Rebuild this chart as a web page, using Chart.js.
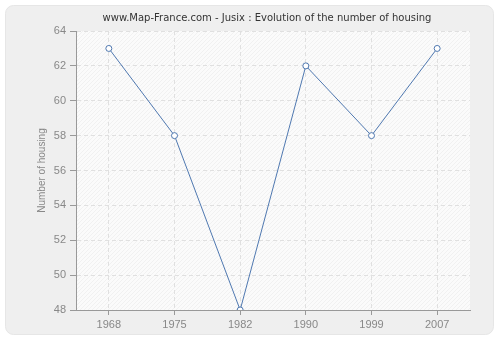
<!DOCTYPE html>
<html><head><meta charset="utf-8">
<script src="https://cdn.jsdelivr.net/npm/chart.js@4/dist/chart.umd.min.js"></script>
<style>html,body{margin:0;padding:0;background:#fff;}#wrap{width:500px;height:340px;}</style>
</head><body><div id="wrap"><canvas id="c" width="500" height="340"></canvas></div>
<script>
const years = ["1968","1975","1982","1990","1999","2007"];
const housing = [63, 58, 48, 62, 58, 63];
const yMin = 48, yMax = 64, yStep = 2;
const titleText = "www.Map-France.com - Jusix : Evolution of the number of housing";
const yTitle = "Number of housing";

const bgPlugin = {
  id: 'bg',
  beforeDraw(chart) {
    const ctx = chart.ctx;
    ctx.save();
    ctx.fillStyle = '#ffffff';
    ctx.fillRect(0, 0, chart.width, chart.height);
    const x = 5.5, y = 5.5, w = 488, h = 329, r = 8;
    ctx.beginPath();
    ctx.moveTo(x + r, y);
    ctx.arcTo(x + w, y, x + w, y + h, r);
    ctx.arcTo(x + w, y + h, x, y + h, r);
    ctx.arcTo(x, y + h, x, y, r);
    ctx.arcTo(x, y, x + w, y, r);
    ctx.closePath();
    ctx.fillStyle = '#efefef';
    ctx.fill();
    ctx.strokeStyle = '#e6e6e6';
    ctx.lineWidth = 1;
    ctx.stroke();
    // title
    ctx.fillStyle = '#333333';
    ctx.font = '10px "DejaVu Sans"';
    ctx.textAlign = 'center';
    ctx.textBaseline = 'middle';
    ctx.fillText(titleText, 267, 18);
    // plot area hatch
    const a = chart.chartArea;
    ctx.beginPath();
    ctx.rect(a.left, a.top, a.right - a.left, a.bottom - a.top);
    ctx.clip();
    ctx.fillStyle = '#fbfbfb';
    ctx.fillRect(a.left, a.top, a.right - a.left, a.bottom - a.top);
    ctx.strokeStyle = '#f1f1f1';
    ctx.lineWidth = 1;
    for (let s = -400; s < 500; s += 4) {
      ctx.beginPath();
      ctx.moveTo(a.left + s, a.bottom);
      ctx.lineTo(a.left + s + (a.bottom - a.top), a.top);
      ctx.stroke();
    }
    ctx.restore();
  }
};

new Chart(document.getElementById('c'), {
  type: 'line',
  data: {
    labels: years,
    datasets: [{
      data: housing,
      borderColor: '#4f78b0',
      borderWidth: 1,
      pointRadius: 3,
      pointBackgroundColor: '#ffffff',
      pointBorderColor: '#4f78b0',
      pointBorderWidth: 1,
      tension: 0,
      fill: false
    }]
  },
  options: {
    responsive: false,
    animation: false,
    layout: { padding: { left: 36, right: 30, top: 31, bottom: 0 } },
    plugins: {
      legend: { display: false },
      tooltip: { enabled: false },
      title: { display: false }
    },
    scales: {
      x: {
        type: 'category',
        offset: true,
        grid: {
          offset: false,
          color: '#e0e0e0',
          tickBorderDash: [],
          tickColor: '#999999',
          tickLength: 5,
          drawTicks: true
        },
        border: { display: true, color: '#999999', width: 1, dash: [4, 3] },
        ticks: { color: '#888888', font: { family: 'Liberation Sans', size: 11 }, padding: 3, maxRotation: 0 },
        afterFit(s) { s.height = 30; }
      },
      y: {
        min: yMin, max: yMax,
        grid: {
          color: '#e0e0e0',
          tickBorderDash: [],
          tickColor: '#999999',
          tickLength: 6
        },
        border: { display: true, color: '#999999', width: 1, dash: [4, 3] },
        ticks: { stepSize: yStep, color: '#888888', font: { family: 'Liberation Sans', size: 11 }, padding: 4 },
        title: { display: true, text: yTitle, color: '#888888', font: { family: 'Liberation Sans', size: 10 }, padding: { top: 0, bottom: 0 } },
        afterFit(s) { s.width = 40; }
      }
    }
  },
  plugins: [bgPlugin]
});
</script></body></html>
